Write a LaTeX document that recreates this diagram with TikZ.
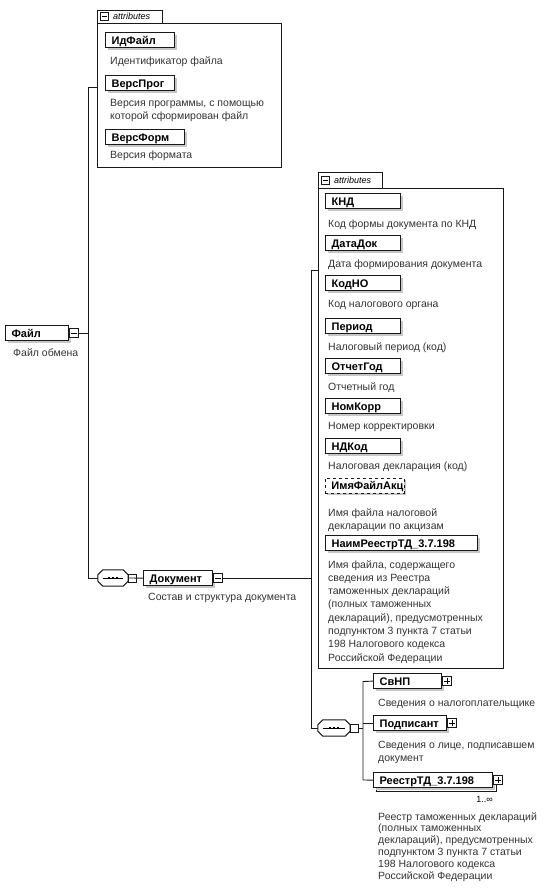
\documentclass[tikz,border=0pt]{standalone}
\usepackage{fontspec}
\setmainfont{Liberation Sans}
\usetikzlibrary{shadows}
\newcommand\nmfont{\fontsize{11}{13}\selectfont\bfseries}
\newcommand\dsfont{\fontsize{10.5}{13.3}\selectfont\color{black!80}}
\newcommand\octpath[1]{([xshift=5pt]#1.north west) -- ([xshift=-5pt]#1.north east) -- ([yshift=-5pt]#1.north east) -- ([yshift=5pt]#1.south east) -- ([xshift=-5pt]#1.south east) -- ([xshift=5pt]#1.south west) -- ([yshift=5pt]#1.south west) -- ([yshift=-5pt]#1.north west) -- cycle}
\begin{document}
\begin{tikzpicture}[x=1pt,y=-1pt,
  elem/.style={draw=black!90, line width=1.2pt, fill=white, anchor=north west,
    text height=9.4pt, text depth=1.6pt, inner xsep=6pt, inner ysep=2pt, font=\nmfont, align=left,
    general shadow={fill=black!22, shadow xshift=2pt, shadow yshift=-2pt}},
  desc/.style={anchor=north west, inner sep=0pt, font=\dsfont, align=left},
  pmbox/.style={draw=black!90, line width=0.8pt, fill=white, minimum size=9pt, inner sep=0pt, anchor=west},
  frame/.style={draw=black!90, line width=0.8pt, anchor=north west, inner sep=0pt},
  conn/.style={draw=black!90, line width=0.9pt},
  seqc/.style={rectangle, draw=none, minimum width=30pt, minimum height=16pt, inner sep=0pt},
  octline/.style={draw=black!90, line width=1pt, fill=white},
  octshadow/.style={fill=black!22, shift={(2,2)}},
  tabtext/.style={anchor=west, inner sep=0pt, font=\fontsize{9}{10}\selectfont\itshape}
]
\useasboundingbox (0,0) rectangle (550,895);

% ---------- left attributes frame ----------
\node[frame, minimum width=184pt, minimum height=144pt] (attL) at (97,23) {};
\draw[black!90, line width=0.8pt] (97,23) -- (97,10) -- (162,10) -- (162,23);
\node[pmbox, minimum size=8pt] (tabL) at (100,16.5) {};
\draw[line width=0.7pt] ([xshift=1.5pt]tabL.west) -- ([xshift=-1.5pt]tabL.east);
\node[tabtext] (tabLt) at (113,16.5) {attributes};

\node[elem, text width=57pt] (idf) at (105,32) {ИдФайл};
\node[desc] (idfd) at (110,57) {Идентификатор файла};
\node[elem, text width=57pt] (vprog) at (105,75) {ВерсПрог};
\node[desc] (vprogd) at (110,99) {Версия программы, с помощью\\которой сформирован файл};
\node[elem, text width=67pt] (vform) at (105,129) {ВерсФорм};
\node[desc] (vformd) at (110,151) {Версия формата};

% ---------- Файл ----------
\node[elem, text width=51pt] (file) at (5,325) {Файл};
\node[pmbox] (fileM) at (file.east) {};
\draw[line width=0.7pt] ([xshift=2pt]fileM.west) -- ([xshift=-2pt]fileM.east);
\node[desc] (filed) at (13,348) {Файл обмена};

\coordinate (bL1) at (88,87);
\coordinate (bL2) at (88,578);
\draw[conn] (bL1 -| attL.west) -- (bL1) -- (bL2);
\draw[conn] (fileM.east) -- (fileM.east -| bL1);

% ---------- sequence 1 and Документ ----------
\node[seqc] (seq1) at (113,578) {};
\fill[octshadow] \octpath{seq1};
\draw[octline] \octpath{seq1};
\draw[conn] (bL2) -- (seq1.west);
\draw[line width=0.8pt] ([xshift=5pt]seq1.west) -- ([xshift=-5pt]seq1.east);
\foreach \dx in {-4,0,4} \fill ([xshift=\dx pt]seq1.center) +(-1.3,-1.3) rectangle +(1.3,1.3);
\node[pmbox, minimum size=8pt] (seq1b) at (seq1.east) {};
\node[elem, text width=57pt] (doc) at (143,570) {Документ};
\draw[conn] (seq1b.west) -- (doc.west);
\node[pmbox] (docM) at (doc.east) {};
\draw[line width=0.7pt] ([xshift=2pt]docM.west) -- ([xshift=-2pt]docM.east);
\node[desc] (docd) at (148,593) {Состав и структура документа};

\coordinate (bR1) at (311,270);
\coordinate (bR2) at (311,728);
\draw[conn] (docM.east) -- (docM.east -| bR1);

% ---------- right attributes frame ----------
\node[frame, minimum width=185pt, minimum height=480pt] (attR) at (318,188) {};
\draw[black!90, line width=0.8pt] (318,188) -- (318,172) -- (382,172) -- (382,188);
\node[pmbox, minimum size=8pt] (tabR) at (321,180) {};
\draw[line width=0.7pt] ([xshift=1.5pt]tabR.west) -- ([xshift=-1.5pt]tabR.east);
\node[tabtext] (tabRt) at (334,180) {attributes};
\draw[conn] (bR1 -| attR.west) -- (bR1) -- (bR2);

\node[elem, text width=63pt] (knd) at (325,193) {КНД};
\node[desc] (kndd) at (328,220) {Код формы документа по КНД};
\node[elem, text width=63pt] (datadok) at (325,235) {ДатаДок};
\node[desc] (datadokd) at (328,260) {Дата формирования документа};
\node[elem, text width=63pt] (kodno) at (325,275) {КодНО};
\node[desc] (kodnod) at (328,300) {Код налогового органа};
\node[elem, text width=63pt] (period) at (325,318) {Период};
\node[desc] (periodd) at (328,342) {Налоговый период (код)};
\node[elem, text width=63pt] (otchgod) at (325,358) {ОтчетГод};
\node[desc] (otchgodd) at (328,382) {Отчетный год};
\node[elem, text width=63pt] (nomkorr) at (325,398) {НомКорр};
\node[desc] (nomkorrd) at (328,422) {Номер корректировки};
\node[elem, text width=63pt] (ndkod) at (325,438) {НДКод};
\node[desc] (ndkodd) at (328,462) {Налоговая декларация (код)};
\node[elem, text width=67pt, dashed, line width=0.9pt] (imyaf) at (325,478) {ИмяФайлАкц};
\node[desc] (imyafd) at (328,508) {Имя файла налоговой\\декларации по акцизам};
\node[elem, text width=140pt] (naim) at (325,535) {НаимРеестрТД\_3.7.198};
\node[desc] (naimd) at (328,560) {Имя файла, содержащего\\сведения из Реестра\\таможенных деклараций\\(полных таможенных\\деклараций), предусмотренных\\подпунктом 3 пункта 7 статьи\\198 Налогового кодекса\\Российской Федерации};

% ---------- sequence 2 and children ----------
\node[seqc, minimum width=32pt] (seq2) at (334,728) {};
\fill[octshadow] \octpath{seq2};
\draw[octline] \octpath{seq2};
\draw[conn] (bR2) -- (seq2.west);
\draw[line width=0.8pt] ([xshift=5pt]seq2.west) -- ([xshift=-5pt]seq2.east);
\foreach \dx in {-4,0,4} \fill ([xshift=\dx pt]seq2.center) +(-1.3,-1.3) rectangle +(1.3,1.3);
\node[pmbox, minimum size=8pt] (seq2b) at (seq2.east) {};
\coordinate (bC1) at (363,681.5);
\coordinate (bC2) at (363,780);
\draw[conn] (seq2b.east) -- (seq2b.east -| bC1);

\node[elem, text width=56pt] (svnp) at (373,673) {СвНП};
\node[pmbox] (svnpP) at (svnp.east) {};
\draw[line width=0.7pt] ([xshift=2pt]svnpP.west) -- ([xshift=-2pt]svnpP.east)
  ([yshift=2pt]svnpP.south) -- ([yshift=-2pt]svnpP.north);
\node[desc] (svnpd) at (378,699) {Сведения о налогоплательщике};

\node[elem, text width=61pt] (podp) at (373,715) {Подписант};
\node[pmbox] (podpP) at (podp.east) {};
\draw[line width=0.7pt] ([xshift=2pt]podpP.west) -- ([xshift=-2pt]podpP.east)
  ([yshift=2pt]podpP.south) -- ([yshift=-2pt]podpP.north);
\node[desc] (podpd) at (378,741) {Сведения о лице, подписавшем\\документ};

\draw[black!90, line width=1pt, fill=white] (376,775) rectangle (496,791);
\node[elem, text width=107pt] (reestr) at (373,772) {РеестрТД\_3.7.198};
\node[pmbox] (reestrP) at (reestr.east) {};
\draw[line width=0.7pt] ([xshift=2pt]reestrP.west) -- ([xshift=-2pt]reestrP.east)
  ([yshift=2pt]reestrP.south) -- ([yshift=-2pt]reestrP.north);
\node[anchor=base east, inner sep=0pt, font=\fontsize{9}{10}\selectfont] (reestrN) at (493,802) {1..∞};
\node[desc, font=\fontsize{10.5}{11.9}\selectfont\color{black!80}] (reestrd) at (378,812) {Реестр таможенных деклараций\\(полных таможенных\\деклараций), предусмотренных\\подпунктом 3 пункта 7 статьи\\198 Налогового кодекса\\Российской Федерации};

\draw[conn] (svnp.west) -- (bC1) -- (bC2) -- (reestr.west);
\draw[conn] (podp.west) -- (podp.west -| bC1);
\end{tikzpicture}
\end{document}
